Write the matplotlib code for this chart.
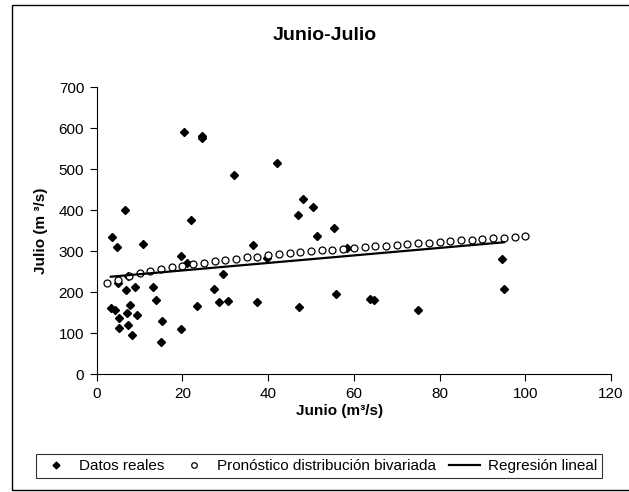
import matplotlib
matplotlib.use('Agg')
import matplotlib.pyplot as plt
from matplotlib.patches import Rectangle

plt.rcParams['font.family'] = ['Liberation Sans', 'DejaVu Sans']

# datos reales (Junio, Julio)
junio = [6.6, 20.3, 24.5, 24.6, 32.0, 22.0, 42.0, 48.1, 50.4, 47.0,
         55.4, 51.3, 39.7, 58.5, 47.3, 55.9, 63.8, 64.7, 75.0, 94.5,
         95.0, 3.5, 4.7, 10.9, 19.7, 21.1, 36.4, 7.4, 4.9, 6.8,
         8.9, 13.2, 13.8, 3.3, 4.3, 7.8, 5.3, 7.0, 9.3, 5.2,
         7.2, 8.3, 15.2, 15.0, 19.7, 23.5, 27.4, 29.5, 28.6, 30.7, 37.4]
julio = [401, 592, 582, 576, 485, 376, 516, 427, 409, 389,
         358, 337, 283, 307, 163, 197, 184, 181, 158, 282,
         209, 334, 310, 318, 289, 271, 315, 240, 222, 206,
         212, 212, 181, 161, 158, 169, 137, 149, 145, 112,
         120, 96, 131, 79, 110, 167, 209, 245, 176, 179, 176]

# pronostico distribucion bivariada
pron_x = [2.5 * k for k in range(1, 41)]
pron_y = [222, 231, 239, 246, 252, 257, 261, 265, 269, 272,
          276, 279, 282, 285, 287, 290, 293, 295, 298, 300,
          302, 304, 306, 308, 310, 312, 314, 316, 318, 320,
          321, 323, 325, 327, 328, 330, 332, 333, 335, 337]

# regresion lineal
reg_x = [3.3, 95.0]
reg_y = [238, 322]

fig = plt.figure(figsize=(6.29, 4.92), dpi=100)
ax = fig.add_axes([0.1537, 0.2392, 0.8177, 0.5834])

ax.plot(junio, julio, linestyle='none', marker='D', markersize=4.3,
        color='black', label='Datos reales')
ax.plot(pron_x, pron_y, linestyle='none', marker='o', markersize=5,
        markerfacecolor='white', markeredgecolor='black', markeredgewidth=0.9,
        label='Pronóstico distribución bivariada')
ax.plot(reg_x, reg_y, color='black', linewidth=1.6, label='Regresión lineal')

ax.set_xlim(0, 120)
ax.set_ylim(0, 700)
ax.set_xticks(range(0, 121, 20))
ax.set_yticks(range(0, 701, 100))
ax.spines['top'].set_visible(False)
ax.spines['right'].set_visible(False)
ax.tick_params(direction='out', length=5, pad=4, labelsize=11)

ax.set_xlabel('Junio (m³/s)', fontsize=11, fontweight='bold')
ax.xaxis.set_label_coords(0.472, -0.105)
ax.set_ylabel('Julio (m ³/s)', fontsize=11, fontweight='bold')
ax.yaxis.set_label_coords(-0.095, 0.5)

fig.text(325 / 629, 1 - 35 / 492, 'Junio-Julio', fontsize=14,
         fontweight='bold', ha='center', va='center')

leg = fig.legend(loc='center', bbox_to_anchor=(319 / 629, 1 - 466 / 492),
                 ncol=3, fontsize=11, frameon=True, fancybox=False,
                 edgecolor='black', handlelength=2.0, columnspacing=0.9,
                 handletextpad=0.5, borderpad=0.35, markerscale=0.8)
leg.get_frame().set_linewidth(0.8)

fig.patches.append(Rectangle((12 / 629, 2 / 492), 1.0, 485 / 492,
                             transform=fig.transFigure, fill=False,
                             edgecolor='black', linewidth=1.0))

fig.savefig('out.png', dpi=100)
